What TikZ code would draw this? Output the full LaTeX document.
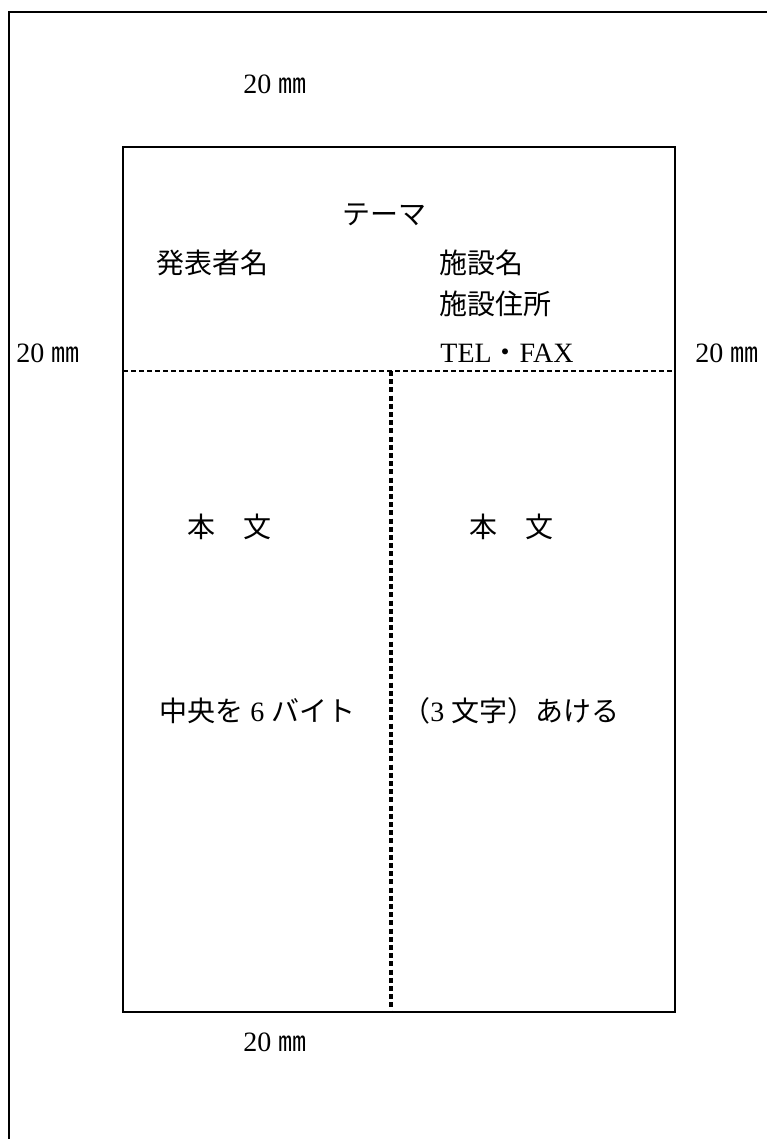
\documentclass[tikz,border=0pt]{standalone}
\usepackage{fontspec}
\setmainfont{Liberation Serif}
\newfontfamily\cjk{Noto Sans CJK JP}
\newcommand{\mmu}{{\cjk ㎜}}
\begin{document}
\begin{tikzpicture}[x=0.5pt,y=-0.5pt,
  txt/.style={anchor=base west, inner sep=0pt, font=\fontsize{14}{16}\selectfont},
  frame/.style={line width=1.1pt},
  hdash/.style={line width=0.9pt, dash pattern=on 2.5pt off 1.5pt},
  vdash/.style={line width=1.6pt, dash pattern=on 2.5pt off 1.6pt}]
\useasboundingbox (0,0) rectangle (767,1139);
% outer page edge
\draw[frame] (9,1139) -- (9,12) -- (767,12);
% inner text area
\draw[frame] (123,147) rectangle (675,1012);
\draw[hdash] (123,371) -- (675,371);
\draw[vdash] (391,371) -- (391,1012);
% labels
\node[txt] (mtop) at (243,94) {20 \mmu};
\node[txt] (mleft) at (16,362) {20 \mmu};
\node[txt] (mright) at (695,362) {20 \mmu};
\node[txt] (mbot) at (243,1051) {20 \mmu};
\node[txt] (theme) at (342,225) {\cjk テーマ};
\node[txt] (author) at (156,273) {\cjk 発表者名};
\node[txt] (fac) at (439,273) {\cjk 施設名};
\node[txt] (addr) at (439,314) {\cjk 施設住所};
\node[txt] (tel) at (440,362) {TEL{\cjk ・}FAX};
\node[txt] (body1) at (187,537) {\cjk 本　文};
\node[txt] (body2) at (469,537) {\cjk 本　文};
\node[txt] (mid1) at (159,721) {{\cjk 中央を} 6 {\cjk バイト}};
\node[txt] (mid2) at (402,721) {{\cjk （}3 {\cjk 文字）あける}};
\end{tikzpicture}
\end{document}
